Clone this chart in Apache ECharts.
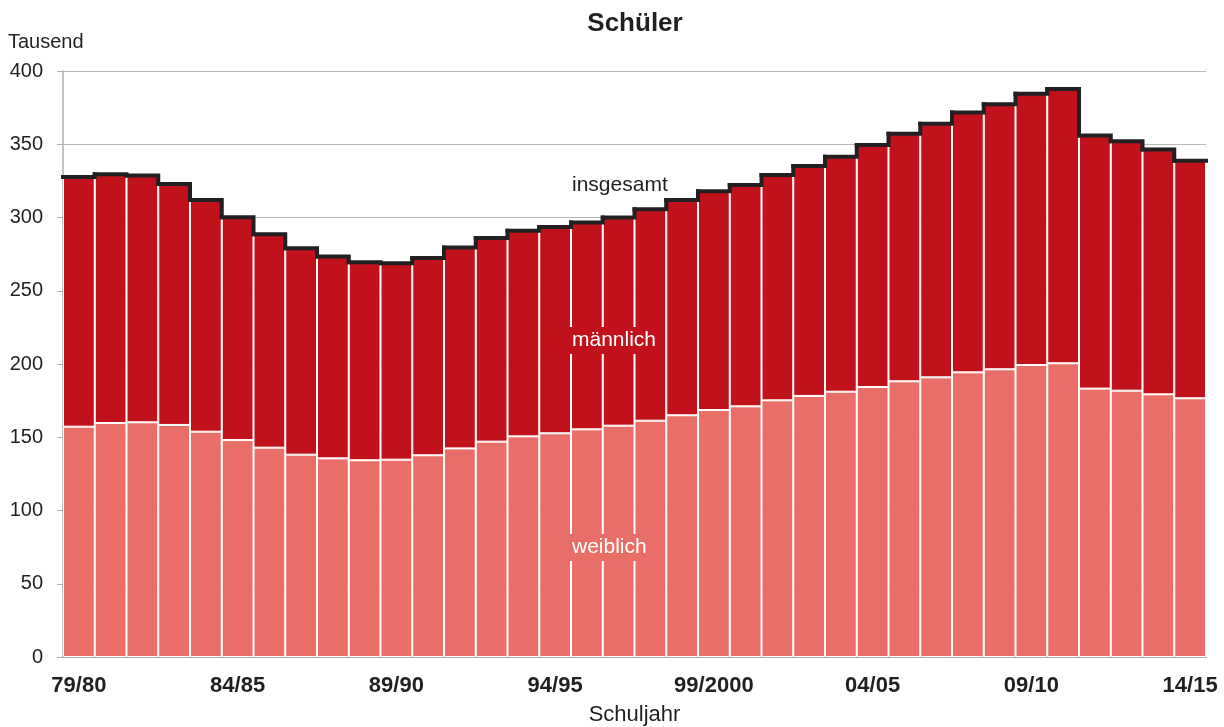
<!DOCTYPE html>
<html lang="de" style="height: 100%">
<head>
  <meta charset="utf-8">
  <title>Schüler</title>
</head>
<body style="height: 100%; margin: 0; background: #fff">
  <div id="container" style="width: 1224px; height: 727px"></div>

  <script type="text/javascript" src="https://fastly.jsdelivr.net/npm/echarts@6/dist/echarts.min.js"></script>
  <script type="text/javascript">
    // Schuljahre 79/80 bis 14/15
    var schuljahre = [
      '79/80', '80/81', '81/82', '82/83', '83/84', '84/85', '85/86', '86/87', '87/88',
      '88/89', '89/90', '90/91', '91/92', '92/93', '93/94', '94/95', '95/96', '96/97',
      '97/98', '98/99', '99/2000', '00/01', '01/02', '02/03', '03/04', '04/05', '05/06',
      '06/07', '07/08', '08/09', '09/10', '10/11', '11/12', '12/13', '13/14', '14/15'
    ];

    // Werte in Tausend
    var weiblich = [
      157.2, 159.7, 160.2, 158.4, 153.8, 148.1, 142.9, 138.1, 135.6,
      134.3, 134.7, 137.7, 142.4, 147.0, 150.6, 152.7, 155.4, 157.9,
      161.3, 165.0, 168.6, 171.1, 175.2, 178.2, 181.1, 184.3, 188.2,
      190.9, 194.3, 196.4, 199.3, 200.5, 183.2, 181.8, 179.3, 176.6
    ];
    var maennlich = [
      170.4, 169.8, 168.4, 164.5, 158.2, 152.0, 145.6, 140.9, 137.7,
      135.1, 134.0, 134.7, 137.2, 139.0, 140.4, 140.8, 141.2, 142.1,
      144.3, 147.0, 149.4, 151.1, 153.8, 157.0, 160.4, 165.2, 169.0,
      173.1, 177.3, 180.9, 185.2, 187.2, 172.7, 170.2, 167.2, 162.2
    ];
    var insgesamt = [
      327.6, 329.5, 328.6, 322.9, 312.0, 300.1, 288.5, 279.0, 273.3,
      269.4, 268.7, 272.4, 279.6, 286.0, 291.0, 293.5, 296.6, 300.0,
      305.6, 312.0, 318.0, 322.2, 329.0, 335.2, 341.5, 349.5, 357.2,
      364.0, 371.6, 377.3, 384.5, 387.7, 355.9, 352.0, 346.5, 338.8
    ];

    var dom = document.getElementById('container');
    var myChart = echarts.init(dom, null, { renderer: 'canvas' });

    var font = '"Liberation Sans", Arial, Helvetica, sans-serif';
    var textColor = '#231f20';

    // Treppenlinie über den Balken (insgesamt)
    function renderStep(params, api) {
      var i = params.dataIndex;
      var p = api.coord([i, api.value(1)]);
      var w = api.size([1, 0])[0];
      var pts = [[p[0] - w / 2, p[1]], [p[0] + w / 2, p[1]]];
      if (i < insgesamt.length - 1) {
        var q = api.coord([i + 1, insgesamt[i + 1]]);
        pts.push([p[0] + w / 2, q[1]]);
      }
      return {
        type: 'polyline',
        shape: { points: pts },
        style: { stroke: '#231f20', lineWidth: 4, fill: null, lineCap: 'square', lineJoin: 'miter' }
      };
    }

    var option = {
      animation: false,
      textStyle: { fontFamily: font },
      title: [{
        text: 'Schüler',
        left: 630,
        top: 6,
        textAlign: 'center',
        textStyle: { fontSize: 26, fontWeight: 'bold', color: textColor, fontFamily: font }
      }, {
        text: 'Tausend',
        left: 3,
        top: 27,
        textStyle: { fontSize: 20, fontWeight: 'normal', color: textColor, fontFamily: font }
      }],
      grid: { left: 63, right: 18, top: 71, bottom: 70, outerBoundsMode: 'none' },
      xAxis: {
        type: 'category',
        data: schuljahre,
        name: 'Schuljahr',
        nameLocation: 'middle',
        nameGap: 47,
        nameTextStyle: { fontSize: 22, color: textColor, fontFamily: font },
        axisLine: { lineStyle: { color: '#a8a8a8', width: 1.5 } },
        axisTick: { show: false },
        axisLabel: {
          interval: 4,
          margin: 18,
          fontSize: 22,
          fontWeight: 'bold',
          color: textColor,
          fontFamily: font
        }
      },
      yAxis: {
        type: 'value',
        min: 0,
        max: 400,
        interval: 50,
        axisLine: { show: true, lineStyle: { color: '#b0b0b0', width: 1.5 } },
        axisTick: { show: true, length: 6, lineStyle: { color: '#b0b0b0' } },
        splitLine: { lineStyle: { color: '#b8b8b8', width: 1.2 } },
        axisLabel: { fontSize: 20, margin: 20, color: textColor, fontFamily: font }
      },
      series: [{
        name: 'weiblich',
        type: 'bar',
        stack: 'schueler',
        barCategoryGap: '0%',
        data: weiblich,
        itemStyle: { color: '#e96e67', borderColor: '#ffffff', borderWidth: 1 }
      }, {
        name: 'männlich',
        type: 'bar',
        stack: 'schueler',
        barCategoryGap: '0%',
        data: maennlich,
        itemStyle: { color: '#c1121c', borderColor: '#ffffff', borderWidth: 1 }
      }, {
        name: 'insgesamt',
        type: 'custom',
        renderItem: renderStep,
        encode: { x: 0, y: 1 },
        data: insgesamt.map(function (v, i) { return [i, v]; }),
        z: 5
      }],
      graphic: [{
        type: 'text',
        left: 572,
        top: 175,
        style: { text: 'insgesamt', fill: textColor, font: '21px ' + font }
      }, {
        type: 'text',
        left: 567,
        top: 327,
        style: {
          text: 'männlich', fill: '#ffffff', font: '21px ' + font,
          backgroundColor: '#c1121c', padding: [3, 5, 3, 5]
        },
        z: 10
      }, {
        type: 'text',
        left: 567,
        top: 534,
        style: {
          text: 'weiblich', fill: '#ffffff', font: '21px ' + font,
          backgroundColor: '#e96e67', padding: [3, 5, 3, 5]
        },
        z: 10
      }]
    };

    myChart.setOption(option);
    window.addEventListener('resize', myChart.resize);
  </script>
</body>
</html>
